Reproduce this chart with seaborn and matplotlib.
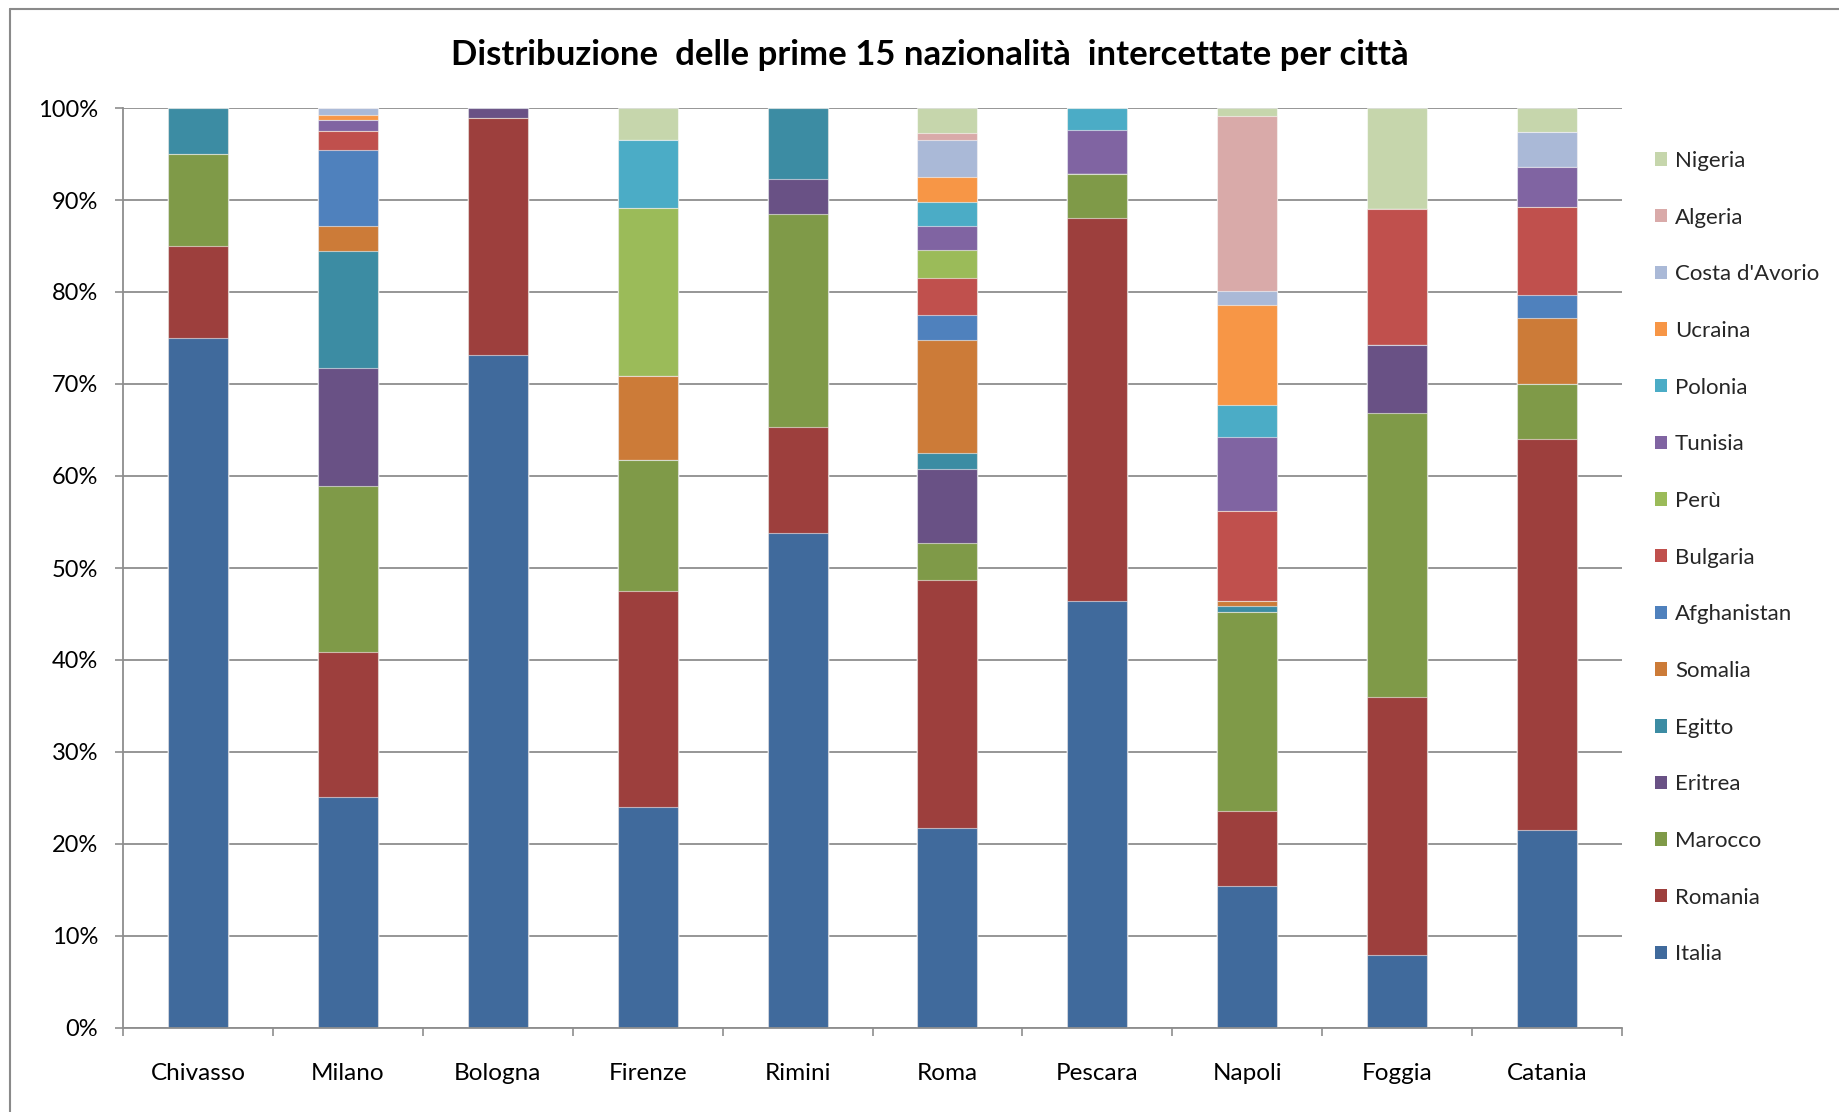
import numpy as np
import pandas as pd
import seaborn as sns
import matplotlib.pyplot as plt
from matplotlib.lines import Line2D
from matplotlib.patches import Patch
from matplotlib.ticker import FuncFormatter, MultipleLocator, FixedLocator

# Cities on the x axis
cities = ["Chivasso", "Milano", "Bologna", "Firenze", "Rimini",
          "Roma", "Pescara", "Napoli", "Foggia", "Catania"]

# Share (%) of each nationality per city, stacked bottom to top
italia = [75.0, 25.06, 73.15, 24.05, 53.8, 21.76, 46.38, 15.39, 7.97, 21.5]
romania = [10.0, 15.78, 25.73, 23.41, 11.53, 26.9, 41.66, 8.15, 27.96, 42.49]
marocco = [10.0, 18.06, 0.0, 14.28, 23.18, 4.06, 4.79, 21.66, 30.94, 5.97]
eritrea = [0.0, 12.84, 1.12, 0.0, 3.81, 8.08, 0.0, 0.0, 7.35, 0.0]
egitto = [5.0, 12.75, 0.0, 0.0, 7.68, 1.74, 0.0, 0.7, 0.0, 0.0]
somalia = [0.0, 2.68, 0.0, 9.09, 0.0, 12.24, 0.0, 0.46, 0.0, 7.18]
afghanistan = [0.0, 8.26, 0.0, 0.0, 0.0, 2.68, 0.0, 0.0, 0.0, 2.57]
bulgaria = [0.0, 2.03, 0.0, 0.0, 0.0, 4.03, 0.0, 9.84, 14.82, 9.53]
peru = [0.0, 0.0, 0.0, 18.3, 0.0, 3.08, 0.0, 0.0, 0.0, 0.0]
tunisia = [0.0, 1.24, 0.0, 0.0, 0.0, 2.57, 4.81, 8.06, 0.0, 4.38]
polonia = [0.0, 0.0, 0.0, 7.36, 0.0, 2.68, 2.36, 3.41, 0.0, 0.0]
ucraina = [0.0, 0.57, 0.0, 0.0, 0.0, 2.68, 0.0, 10.97, 0.0, 0.0]
costa_avorio = [0.0, 0.73, 0.0, 0.0, 0.0, 3.99, 0.0, 1.46, 0.0, 3.81]
algeria = [0.0, 0.0, 0.0, 0.0, 0.0, 0.83, 0.0, 19.0, 0.0, 0.0]
nigeria = [0.0, 0.0, 0.0, 3.51, 0.0, 2.68, 0.0, 0.9, 10.96, 2.57]

nationalities = ["Italia", "Romania", "Marocco", "Eritrea", "Egitto", "Somalia",
                 "Afghanistan", "Bulgaria", "Perù", "Tunisia", "Polonia",
                 "Ucraina", "Costa d'Avorio", "Algeria", "Nigeria"]
values = [italia, romania, marocco, eritrea, egitto, somalia, afghanistan,
          bulgaria, peru, tunisia, polonia, ucraina, costa_avorio, algeria, nigeria]
colors = ["#406A9C", "#9D3F3D", "#7F9A48", "#695185", "#3C8CA3", "#CC7B38",
          "#4F81BD", "#C0504D", "#9BBB59", "#8064A2", "#4BACC6", "#F79646",
          "#AAB9D7", "#D9AAA9", "#C6D6AC"]
palette = dict(zip(nationalities, colors))

# Cumulative tops: each nationality is drawn as a bar reaching its cumulative
# height, top layers first, so lower layers cover them and form the stack.
cum = np.cumsum(np.array(values), axis=0)
rows = []
for i, nat in enumerate(nationalities):
    for j, city in enumerate(cities):
        rows.append({"Città": city, "Nazionalità": nat,
                     "Quota": values[i][j], "Cumulato": cum[i, j]})
df = pd.DataFrame(rows)

sns.set_theme(style="white")
plt.rcParams["font.family"] = ["Lato", "DejaVu Sans"]

W, H = 1839, 1112
fig = plt.figure(figsize=(W / 100, H / 100), dpi=100)
ax = fig.add_axes([123 / W, 1 - 1028 / H, (1622 - 123) / W, (1028 - 108) / H])
ax.set_axisbelow(True)

top_down = nationalities[::-1]
sns.barplot(data=df, x="Città", y="Cumulato", hue="Nazionalità",
            order=cities, hue_order=top_down, palette=palette,
            dodge=False, width=0.4, errorbar=None, legend=False,
            saturation=1, edgecolor=(1, 1, 1, 0.55), linewidth=0.8, ax=ax)

grid_col = "#8E8E8E"
ax.set_ylim(0, 100)
ax.set_xlim(-0.5, len(cities) - 0.5)
ax.yaxis.set_major_locator(MultipleLocator(10))
ax.yaxis.set_major_formatter(FuncFormatter(lambda v, p: f"{v:.0f}%"))
ax.yaxis.grid(True, color=grid_col, lw=1.3)
ax.xaxis.grid(False)
ax.set_xlabel("")
ax.set_ylabel("")

ax.xaxis.set_minor_locator(FixedLocator(np.arange(-0.5, len(cities), 1.0)))
ax.tick_params(axis="x", which="major", length=0, pad=25, labelsize=17.5,
               labelcolor="#000000")
ax.tick_params(axis="x", which="minor", length=6, width=1.2, color=grid_col,
               direction="out", bottom=True)
ax.tick_params(axis="y", which="major", length=6, width=1.2, color=grid_col,
               direction="out", left=True, pad=12, labelsize=17,
               labelcolor="#000000")

for side in ("top", "right"):
    ax.spines[side].set_visible(False)
for side in ("left", "bottom"):
    ax.spines[side].set_color(grid_col)
    ax.spines[side].set_linewidth(1.3)

fig.text(930 / W, 1 - 55 / H,
         "Distribuzione  delle prime 15 nazionalità  intercettate per città",
         ha="center", va="center", fontsize=25, fontweight="bold", color="#000000")

handles = [Patch(facecolor=palette[n], edgecolor="none") for n in top_down]
fig.legend(handles, top_down, loc="upper left",
           bbox_to_anchor=(1655 / W, 1 - 151 / H), frameon=False,
           fontsize=16, handlelength=0.55, handleheight=0.55,
           handletextpad=0.35, labelspacing=1.65, borderpad=0,
           borderaxespad=0)

# Chart frame edges
fig.add_artist(Line2D([10 / W, 10 / W], [0, 1 - 9 / H],
                      transform=fig.transFigure, color="#8A8A8A", lw=1.5))
fig.add_artist(Line2D([10 / W, 1], [1 - 9 / H, 1 - 9 / H],
                      transform=fig.transFigure, color="#8A8A8A", lw=1.5))

fig.savefig("out.png", dpi=100, facecolor="white")
